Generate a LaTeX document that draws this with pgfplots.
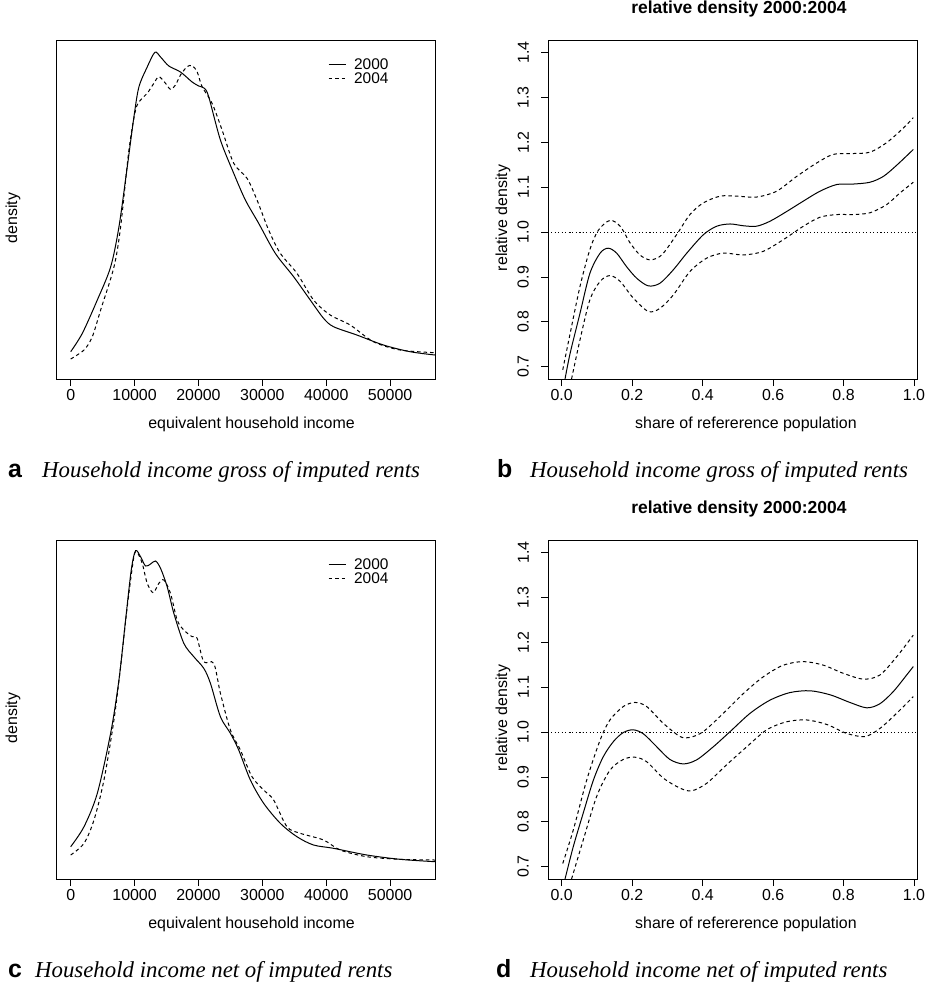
\documentclass[border=0pt]{standalone}
\usepackage{fontspec}
\setmainfont{Liberation Sans}
\newfontfamily\capfont{Liberation Serif}
\usepackage{pgfplots}
\pgfplotsset{compat=1.18}

% density values are in arbitrary units (the original has no y scale)
\pgfplotstableread{
x y
0 27.3
1823 45.7
4167 79
6250 112
7550 152
8854 212
9896 262
10677 292
11979 312
13177 326.7
14063 322
15365 313
17188 307
19010 297
20052 293
20938 290.7
21615 282
23438 239
25521 205.7
27344 179
29427 155.7
32031 125.7
34896 102.3
37500 79
39583 60.7
41146 52.3
44792 44
48958 34
53125 27.3
57031 24
}\grossA
\pgfplotstableread{
x y
0 20
2083 29
3385 42.3
4688 69
6771 112
7813 152
9115 229
10156 269
10938 279
11979 285.7
13021 295.7
13802 302.3
14844 295.7
15625 289.7
16406 294
17188 304
18229 312.3
19010 313.3
19792 307.3
20573 292.3
22135 275.7
23698 249
25521 215.7
27604 200.7
29167 179
30990 149
32813 125.7
35417 105.7
38021 79
40625 64
43750 54
47396 37.3
51563 29
57031 26.3
}\grossB
\pgfplotstableread{
x y
0 32.3
2083 52.3
4167 85.7
6250 145.7
7552 199
8594 259
9479 309
10156 328.3
10938 322.3
11719 313
12500 315
13281 318
14063 310.7
15104 292.3
16146 265.7
17708 235.7
19271 222.3
20833 210.7
21875 195.7
23438 162.3
25000 145.7
26302 129
28125 99
30208 75.7
32813 55.7
35417 42.3
38021 34
41146 30.7
46354 24
51563 19.7
57031 17.3
}\netA
\pgfplotstableread{
x y
0 24
2083 35.7
3646 59
5208 99
6771 159
7813 212.3
8854 272.3
9896 322.3
10417 326.3
11198 315.7
11979 295.7
12917 286.3
13802 295.7
14583 299
15625 285.7
16667 259
17708 249
19010 242.3
19792 240.7
20833 217.3
22396 215.7
23438 185.7
25000 149
26563 129
28385 102.3
30208 89
31771 79
33854 52.3
35938 45.7
39583 39
42188 29
46354 22.3
51563 19.7
57031 19
}\netB
% relative density, gross: estimate, upper and lower band
\pgfplotstableread{
x y
0.0095 0.6725
0.024 0.730
0.052 0.819
0.080 0.908
0.109 0.953
0.132 0.964
0.156 0.953
0.184 0.923
0.213 0.897
0.246 0.880
0.279 0.886
0.317 0.916
0.355 0.953
0.402 0.994
0.440 1.013
0.478 1.018
0.516 1.014
0.553 1.013
0.591 1.024
0.639 1.046
0.686 1.069
0.733 1.091
0.781 1.106
0.828 1.107
0.875 1.111
0.913 1.124
0.951 1.149
0.998 1.184
}\relGm
\pgfplotstableread{
x y
0.003 0.693
0.024 0.774
0.052 0.879
0.080 0.961
0.104 1.004
0.137 1.026
0.166 1.013
0.194 0.976
0.222 0.949
0.251 0.938
0.284 0.949
0.326 0.994
0.364 1.039
0.402 1.065
0.450 1.080
0.497 1.080
0.553 1.078
0.610 1.091
0.667 1.124
0.724 1.154
0.771 1.173
0.828 1.175
0.875 1.178
0.922 1.199
0.970 1.232
0.998 1.255
}\relGu
\pgfplotstableread{
x y
0.028 0.6725
0.052 0.760
0.080 0.849
0.109 0.890
0.137 0.903
0.166 0.890
0.203 0.853
0.246 0.823
0.279 0.830
0.317 0.860
0.364 0.912
0.412 0.942
0.459 0.953
0.516 0.949
0.572 0.957
0.629 0.983
0.686 1.013
0.733 1.033
0.781 1.039
0.828 1.039
0.875 1.043
0.922 1.061
0.960 1.087
0.998 1.111
}\relGl
% relative density, net
\pgfplotstableread{
x y
0.0095 0.6725
0.033 0.745
0.061 0.819
0.090 0.893
0.118 0.945
0.147 0.979
0.175 0.999
0.203 1.005
0.232 0.996
0.270 0.967
0.307 0.939
0.345 0.929
0.383 0.938
0.430 0.967
0.478 1.001
0.535 1.042
0.591 1.071
0.648 1.088
0.705 1.092
0.762 1.083
0.818 1.066
0.866 1.054
0.903 1.063
0.941 1.090
0.979 1.127
0.998 1.146
}\relNm
\pgfplotstableread{
x y
0.003 0.707
0.033 0.782
0.071 0.893
0.109 0.982
0.137 1.027
0.175 1.057
0.208 1.066
0.241 1.057
0.289 1.019
0.336 0.990
0.364 0.988
0.402 1.001
0.459 1.042
0.516 1.086
0.572 1.123
0.629 1.149
0.686 1.157
0.743 1.149
0.799 1.131
0.856 1.118
0.903 1.127
0.951 1.168
0.998 1.216
}\relNu
\pgfplotstableread{
x y
0.028 0.6725
0.061 0.759
0.099 0.856
0.137 0.915
0.175 0.939
0.208 0.944
0.241 0.934
0.289 0.897
0.336 0.875
0.369 0.869
0.412 0.886
0.468 0.927
0.525 0.967
0.582 1.005
0.639 1.023
0.695 1.027
0.752 1.017
0.809 0.997
0.861 0.990
0.903 1.008
0.951 1.042
0.998 1.079
}\relNl

\pgfplotsset{
  rplot/.style={
    scale only axis, anchor=south west, height=339bp,
    axis line style={line width=0.9bp},
    tick pos=left, tick align=outside, major tick length=7bp,
    tick style={line width=0.8bp, black},
    every tick label/.append style={font=\fontsize{16}{17}\selectfont},
    label style={font=\fontsize{16}{18}\selectfont},
    /pgf/number format/assume math mode=true,
    /pgf/number format/1000 sep={},
    cycle list={{black, no markers}},
    every axis plot/.append style={line width=1bp, smooth, tension=0.5, no markers},
  },
  income/.style={rplot, width=378.3bp,
    xmin=-2190, xmax=57030, ymin=0, ymax=339,
    xtick={0,10000,20000,30000,40000,50000}, scaled x ticks=false, ytick=\empty,
    xlabel={equivalent household income}, ylabel={density},
    xlabel style={at={(axis description cs:0.515,-0.133)}, anchor=center},
    ylabel style={at={(axis description cs:-0.1155,0.475)}, anchor=center},
    legend style={draw=none, fill=none, inner sep=0pt, row sep=1.5bp,
      font=\fontsize{15.5}{15}\selectfont, anchor=north west,
      nodes={inner sep=0pt},
      /tikz/every odd column/.append style={column sep=8bp}},
    legend cell align=left,
    legend image code/.code={\draw[##1] (0bp,0bp) -- (17bp,0bp);},
  },
  reldens/.style={rplot, width=369.4bp,
    xmin=-0.038, xmax=1.0105, ymin=0.6725, ymax=1.428,
    xtick={0,0.2,0.4,0.6,0.8,1}, ytick={0.7,0.8,0.9,1.0,1.1,1.2,1.3,1.4},
    /pgf/number format/fixed, /pgf/number format/fixed zerofill,
    /pgf/number format/precision=1,
    yticklabel style={xshift=-9bp, rotate=90, anchor=south},
    xlabel={share of refererence population}, ylabel={relative density},
    xlabel style={at={(axis description cs:0.535,-0.133)}, anchor=center},
    ylabel style={at={(axis description cs:-0.1226,0.475)}, anchor=center},
    title={relative density 2000:2004},
    title style={font=\bfseries\fontsize{17.5}{20}\selectfont,
      at={(axis description cs:0.516,1.074)}, anchor=center},
  },
}

\begin{document}
\begin{tikzpicture}
\useasboundingbox (0bp,0bp) rectangle (930bp,-983bp);

\begin{axis}[income, at={(56.7bp,-379bp)},
  legend style={at={(axis description cs:0.717,0.945)}}]
\addplot[black] table {\grossA};
\addplot[black, dash pattern=on 3.5bp off 3bp] table {\grossB};
\legend{2000,2004}
\end{axis}

\begin{axis}[reldens, at={(548.3bp,-379bp)}]
\addplot[black, dash pattern=on 1bp off 2.5bp, smooth=false, line width=0.8bp] coordinates {(-0.05,1) (1.05,1)};
\addplot[black] table {\relGm};
\addplot[black, dash pattern=on 3.5bp off 3bp] table {\relGu};
\addplot[black, dash pattern=on 3.5bp off 3bp] table {\relGl};
\end{axis}

\begin{axis}[income, at={(56.7bp,-879bp)},
  legend style={at={(axis description cs:0.717,0.946)}}]
\addplot[black] table {\netA};
\addplot[black, dash pattern=on 3.5bp off 3bp] table {\netB};
\legend{2000,2004}
\end{axis}

\begin{axis}[reldens, at={(548.3bp,-879bp)}]
\addplot[black, dash pattern=on 1bp off 2.5bp, smooth=false, line width=0.8bp] coordinates {(-0.05,1) (1.05,1)};
\addplot[black] table {\relNm};
\addplot[black, dash pattern=on 3.5bp off 3bp] table {\relNu};
\addplot[black, dash pattern=on 3.5bp off 3bp] table {\relNl};
\end{axis}

\node[anchor=base west, inner sep=0pt] at (8bp,-477bp) {\fontsize{25}{28}\selectfont\bfseries a};
\node[anchor=base west, inner sep=0pt] at (42bp,-477bp) {\capfont\itshape\fontsize{22.9}{28}\selectfont Household income gross of imputed rents};
\node[anchor=base west, inner sep=0pt] at (497bp,-477bp) {\fontsize{25}{28}\selectfont\bfseries b};
\node[anchor=base west, inner sep=0pt] at (530bp,-477bp) {\capfont\itshape\fontsize{22.9}{28}\selectfont Household income gross of imputed rents};
\node[anchor=base west, inner sep=0pt] at (8bp,-977bp) {\fontsize{25}{28}\selectfont\bfseries c};
\node[anchor=base west, inner sep=0pt] at (35bp,-977bp) {\capfont\itshape\fontsize{22.9}{28}\selectfont Household income net of imputed rents};
\node[anchor=base west, inner sep=0pt] at (496bp,-977bp) {\fontsize{25}{28}\selectfont\bfseries d};
\node[anchor=base west, inner sep=0pt] at (530bp,-977bp) {\capfont\itshape\fontsize{22.9}{28}\selectfont Household income net of imputed rents};
\end{tikzpicture}
\end{document}
